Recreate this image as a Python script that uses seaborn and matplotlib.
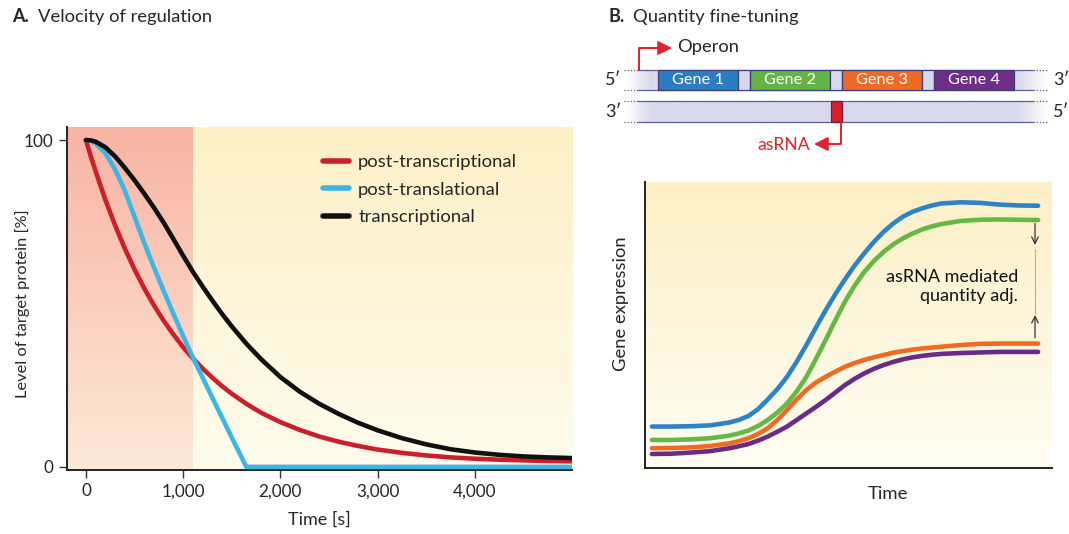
import numpy as np
import pandas as pd
import matplotlib
matplotlib.use("Agg")
import matplotlib.pyplot as plt
from matplotlib.patches import Rectangle
import seaborn as sns

# --- panel A: protein level after switching off ---
time_s = [0, 50, 100, 200, 300, 400, 500, 600, 700, 800, 900, 1000, 1100, 1200, 1300,
          1400, 1500, 1650, 1800, 2000, 2200, 2400, 2600, 2800, 3000, 3250, 3500,
          3750, 4000, 4250, 4500, 4750, 5000]
post_transcriptional = [100, 95, 90.4, 81.7, 73.9, 66.8, 60.4, 54.6, 49.4, 44.7, 40.5, 36.6,
                        33.2, 30.1, 27.3, 24.7, 22.4, 19.3, 16.6, 13.7, 11.3, 9.3, 7.7, 6.4,
                        5.3, 4.3, 3.5, 2.9, 2.5, 2.2, 2.0, 1.8, 1.7]
post_translational = [100, 99.8, 99, 96, 91, 84.5, 76.5, 68.5, 61, 53.8, 46.8, 40, 33.5,
                      27.3, 21.2, 15.1, 9.0, 0, 0, 0, 0, 0, 0, 0, 0, 0, 0, 0, 0, 0, 0, 0, 0]
transcriptional = [100, 99.9, 99.5, 97.8, 95, 91.5, 87.7, 83.6, 79.3, 74.7, 69.7, 64.6,
                   59.7, 55.2, 50.9, 46.8, 43, 37.7, 33, 27.5, 23, 19.3, 16.2, 13.5, 11.2,
                   8.8, 6.9, 5.4, 4.4, 3.7, 3.2, 2.9, 2.7]
regulation_names = ["post-transcriptional", "post-translational", "transcriptional"]
fast_window_end = 1100

# --- panel B: gene expression over time (arbitrary units 0-100) ---
time_b = [0, 5, 10, 15, 20, 22.5, 25, 27.5, 30, 32.5, 35, 37.5, 40, 42.5, 45, 47.5, 50,
          52.5, 55, 57.5, 60, 62.5, 65, 67.5, 70, 72.5, 75, 80, 85, 90, 95, 100]
gene1 = [14.5, 14.5, 14.6, 14.9, 15.9, 16.8, 18.2, 20.6, 24.0, 27.6, 31.9, 37.2, 43.0,
         49.2, 55.2, 60.8, 66.0, 70.8, 75.1, 79.1, 82.6, 85.5, 87.9, 89.6, 90.8, 91.8,
         92.5, 92.9, 92.7, 92.1, 91.8, 91.7]
gene2 = [9.8, 9.8, 10.0, 10.4, 11.3, 12.1, 13.1, 14.7, 16.8, 19.4, 22.6, 26.8, 31.9, 38.2,
         44.8, 51.7, 58.2, 63.8, 68.6, 72.4, 75.6, 78.2, 80.3, 82.0, 83.4, 84.5, 85.3,
         86.4, 86.8, 86.9, 86.8, 86.7]
gene3 = [6.9, 7.0, 7.2, 7.7, 8.6, 9.4, 10.4, 11.9, 13.9, 16.8, 20.3, 24.0, 27.3, 29.9,
         31.9, 33.7, 35.4, 36.7, 37.8, 38.7, 39.5, 40.3, 40.9, 41.4, 41.8, 42.1, 42.4,
         43.0, 43.4, 43.5, 43.5, 43.5]
gene4 = [4.9, 5.0, 5.4, 5.9, 6.9, 7.6, 8.4, 9.6, 11.0, 12.7, 14.5, 16.8, 19.1, 21.4, 23.8,
         26.4, 29.0, 31.2, 33.1, 34.7, 36.0, 37.1, 38.0, 38.7, 39.2, 39.6, 39.9, 40.2,
         40.4, 40.6, 40.6, 40.6]
gene_names = ["Gene 1", "Gene 2", "Gene 3", "Gene 4"]

RED = "#cc1f2c"
BLUE_A = "#3db6e6"
gene_colors = ["#2b7cc0", "#62b446", "#ef6b25", "#6e2e88"]
line_colors = ["#2e83c7", "#66b744", "#ef6a23", "#6a2b86"]
strand_color = "#d9d9eb"
strand_edge = "#5d5d9c"

sns.set_theme(style="white")
plt.rcParams["font.family"] = ["Lato", "DejaVu Sans"]
plt.rcParams["axes.linewidth"] = 1.4

fig = plt.figure(figsize=(10.69, 5.34), dpi=100)
W, H = 1069, 534


def px_axes(left, top, right, bottom):
    return fig.add_axes([left / W, (H - bottom) / H, (right - left) / W, (bottom - top) / H])


def vgrad(ax, x0, x1, y0, y1, top, bottom):
    t = np.linspace(0, 1, 256)[:, None, None]
    top = np.array(matplotlib.colors.to_rgb(top))
    bottom = np.array(matplotlib.colors.to_rgb(bottom))
    img = top * (1 - t) + bottom * t
    ax.imshow(img, extent=(x0, x1, y0, y1), aspect="auto", origin="upper", zorder=0)


# ================= Panel A =================
axA = px_axes(67, 127, 572, 469.5)
xminA, xmaxA, yminA, ymaxA = -195, 5000, -0.8, 104
vgrad(axA, xminA, fast_window_end, yminA, ymaxA, "#f8b3a3", "#fde9d8")
vgrad(axA, fast_window_end, xmaxA, yminA, ymaxA, "#fdf0c6", "#fffcee")

dfA = pd.DataFrame({
    "time": time_s * 3,
    "level": post_transcriptional + post_translational + transcriptional,
    "kind": sum([[n] * len(time_s) for n in regulation_names], []),
})
sns.lineplot(data=dfA, x="time", y="level", hue="kind", hue_order=regulation_names,
             palette=[RED, BLUE_A, "#111111"], estimator=None, lw=3.3, ax=axA, zorder=3,
             solid_joinstyle="round")
axA.set_xlim(xminA, xmaxA)
axA.set_ylim(yminA, ymaxA)
axA.set_xticks([0, 1000, 2000, 3000, 4000])
axA.set_xticklabels(["0", "1,000", "2,000", "3,000", "4,000"])
axA.set_yticks([0, 100])
axA.tick_params(axis="both", length=6, width=1, color="#333333", labelsize=12.3, pad=4,
                direction="out", bottom=True, left=True)
axA.set_xlabel("Time [s]", fontsize=13, labelpad=9)
axA.set_ylabel("Level of target protein [%]", fontsize=11.8)
axA.yaxis.set_label_coords(-0.073, 0.483)
for s in ["top", "right"]:
    axA.spines[s].set_visible(False)
for s in ["left", "bottom"]:
    axA.spines[s].set_color("#222222")
handles, labels = axA.get_legend_handles_labels()
for h in handles:
    h.set_linewidth(4)
axA.legend(handles, labels, loc="upper left", bbox_to_anchor=(0.507, 0.92), frameon=False,
           fontsize=13.3, handlelength=1.4, handletextpad=0.5, labelspacing=0.62,
           borderpad=0, borderaxespad=0)

# ================= Panel B curves =================
axB = px_axes(645, 182, 1052, 468)
xminB, xmaxB, yminB, ymaxB = -1.8, 103.6, 0, 100
vgrad(axB, xminB, xmaxB, yminB, ymaxB, "#fdf0c6", "#fffdf3")
dfB = pd.DataFrame({
    "time": time_b * 4,
    "expr": gene1 + gene2 + gene3 + gene4,
    "gene": sum([[g] * len(time_b) for g in gene_names], []),
})
sns.lineplot(data=dfB, x="time", y="expr", hue="gene", hue_order=gene_names,
             palette=line_colors, estimator=None, lw=3.3, legend=False, ax=axB, zorder=3,
             solid_joinstyle="round")
axB.set_xlim(xminB, xmaxB)
axB.set_ylim(yminB, ymaxB)
axB.set_xticks([])
axB.set_yticks([])
axB.set_xlabel("Time", fontsize=13.3)
axB.xaxis.set_label_coords(0.597, -0.062)
axB.set_ylabel("Gene expression", fontsize=13.2)
axB.yaxis.set_label_coords(-0.039, 0.573)
for s in ["top", "right"]:
    axB.spines[s].set_visible(False)
for s in ["left", "bottom"]:
    axB.spines[s].set_color("#222222")

axB.annotate("", xy=(99.2, 78), xytext=(99.2, 85.5),
             arrowprops=dict(arrowstyle="->", lw=0.9, color="#333333", shrinkA=0, shrinkB=0))
axB.plot([99.2, 99.2], [54, 76.5], color="#b0b0b0", lw=0.8, zorder=2)
axB.annotate("", xy=(99.2, 53.5), xytext=(99.2, 45.5),
             arrowprops=dict(arrowstyle="->", lw=0.9, color="#333333", shrinkA=0, shrinkB=0))
axB.text(94.8, 63.4, "asRNA mediated\nquantity adj.", ha="right", va="center",
         fontsize=13, linespacing=1.2, color="#111111")

# ================= overlay: titles + operon diagram =================
ov = fig.add_axes([0, 0, 1, 1], zorder=5)
ov.patch.set_alpha(0)
ov.set_axis_off()

ov.text(12, 17, "A.", fontsize=13, fontweight="bold", va="center", ha="left")
ov.text(38, 17, "Velocity of regulation", fontsize=13.2, va="center", ha="left")
ov.text(608, 17, "B.", fontsize=13, fontweight="bold", va="center", ha="left")
ov.text(633, 17, "Quantity fine-tuning", fontsize=13.2, va="center", ha="left")

# strands with faded ends
xs = np.linspace(0, 1, 400)
alpha = np.clip(np.minimum(xs / 0.06, (1 - xs) / 0.07), 0, 1)
for y0, y1 in [(70, 90), (101, 122)]:
    rgba = np.zeros((1, len(xs), 4))
    rgba[..., :3] = matplotlib.colors.to_rgb(strand_color)
    rgba[..., 3] = alpha
    ov.imshow(rgba, extent=(625, 1048, y1, y0), aspect="auto", zorder=1)
    for yy in (y0, y1):
        ov.plot([638, 1033], [yy, yy], color=strand_edge, lw=0.9, zorder=2)
        ov.plot([624, 638], [yy, yy], color=strand_edge, lw=0.9, ls=(0, (1, 1.5)), zorder=2)
        ov.plot([1033, 1048], [yy, yy], color=strand_edge, lw=0.9, ls=(0, (1, 1.5)), zorder=2)

gene_x = [658, 750, 842, 934]
gene_w = 80
for i, (gx, name, col) in enumerate(zip(gene_x, gene_names, gene_colors)):
    ov.add_patch(Rectangle((gx, 70), gene_w, 20, facecolor=col, edgecolor="#3e3e7c",
                           lw=0.9, zorder=3))
    ov.text(gx + gene_w / 2, 80.5, name, color="white", fontsize=11.8, ha="center",
            va="center", zorder=4)
    if i < 3:
        ov.add_patch(Rectangle((gx + gene_w, 70), 12, 20, facecolor=strand_color,
                               edgecolor="#3e3e7c", lw=0.9, zorder=3))
ov.add_patch(Rectangle((831, 101), 11, 21, facecolor="#d71f2b", edgecolor="#6b1f3a",
                       lw=0.9, zorder=3))

for x, y, s in [(613, 80, "5\u2032"), (1061, 80, "3\u2032"),
                (613, 112, "3\u2032"), (1061, 112, "5\u2032")]:
    ov.text(x, y, s, fontsize=13, ha="center", va="center")

ARROW_RED = "#e3202e"
ov.plot([639, 639, 662], [70, 48, 48], color=ARROW_RED, lw=1.4, zorder=3)
ov.annotate("", xy=(672, 48), xytext=(658, 48),
            arrowprops=dict(arrowstyle="-|>,head_length=0.7,head_width=0.35",
                            color=ARROW_RED, lw=1.4, shrinkA=0, shrinkB=0))
ov.text(677, 47, "Operon", fontsize=13.2, ha="left", va="center")
ov.plot([841, 841, 826], [122, 144, 144], color=ARROW_RED, lw=1.4, zorder=3)
ov.annotate("", xy=(814, 144), xytext=(828, 144),
            arrowprops=dict(arrowstyle="-|>,head_length=0.7,head_width=0.35",
                            color=ARROW_RED, lw=1.4, shrinkA=0, shrinkB=0))
ov.text(810, 145, "asRNA", fontsize=12.6, ha="right", va="center", color=ARROW_RED)

ov.set_xlim(0, W)
ov.set_ylim(H, 0)

fig.savefig("out.png", dpi=100)
